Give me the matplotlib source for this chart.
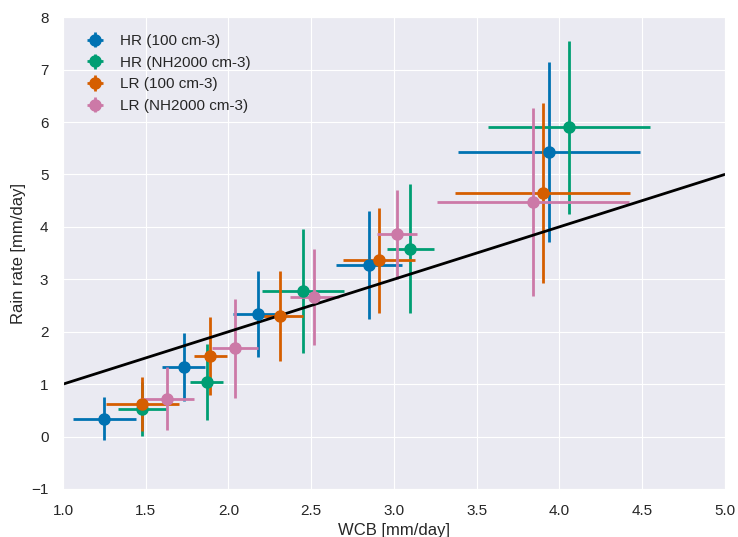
import matplotlib
matplotlib.use('Agg')
import matplotlib.pyplot as plt
import seaborn as sns

# data: WCB [mm/day] vs rain rate [mm/day]
labels = ['HR (100 cm-3)', 'HR (NH2000 cm-3)', 'LR (100 cm-3)', 'LR (NH2000 cm-3)']
colors = ['#0072B2', '#009E73', '#D55E00', '#CC79A7']

hr100_x = [1.25, 1.73, 2.18, 2.85, 3.94]
hr100_xerr = [0.19, 0.13, 0.15, 0.20, 0.55]
hr100_y = [0.34, 1.33, 2.33, 3.27, 5.43]
hr100_yerr = [0.41, 0.65, 0.82, 1.03, 1.71]

hrnh_x = [1.48, 1.87, 2.45, 3.10, 4.06]
hrnh_xerr = [0.15, 0.10, 0.25, 0.14, 0.49]
hrnh_y = [0.53, 1.04, 2.78, 3.58, 5.90]
hrnh_yerr = [0.52, 0.73, 1.18, 1.23, 1.65]

lr100_x = [1.48, 1.89, 2.31, 2.91, 3.90]
lr100_xerr = [0.22, 0.10, 0.14, 0.22, 0.53]
lr100_y = [0.62, 1.54, 2.30, 3.36, 4.65]
lr100_yerr = [0.52, 0.75, 0.86, 1.00, 1.72]

lrnh_x = [1.63, 2.04, 2.52, 3.02, 3.84]
lrnh_xerr = [0.16, 0.14, 0.15, 0.12, 0.58]
lrnh_y = [0.72, 1.68, 2.66, 3.86, 4.47]
lrnh_yerr = [0.60, 0.94, 0.92, 0.85, 1.79]

# 1:1 reference line
line_x = [1.0, 5.0]
line_y = [1.0, 5.0]

sns.set_style('darkgrid')
plt.rcParams['font.family'] = ['Liberation Sans', 'DejaVu Sans']
plt.rcParams['xtick.color'] = '#262626'
plt.rcParams['ytick.color'] = '#262626'
plt.rcParams['xtick.major.pad'] = 7
plt.rcParams['ytick.major.pad'] = 7

fig = plt.figure(figsize=(7.38, 5.37), dpi=100)
ax = fig.add_axes([0.0854, 0.0894, 0.8966, 0.8786])

series = [
    (hr100_x, hr100_y, hr100_xerr, hr100_yerr),
    (hrnh_x, hrnh_y, hrnh_xerr, hrnh_yerr),
    (lr100_x, lr100_y, lr100_xerr, lr100_yerr),
    (lrnh_x, lrnh_y, lrnh_xerr, lrnh_yerr),
]
for (x, y, xe, ye), lab, c in zip(series, labels, colors):
    ax.errorbar(x, y, xerr=xe, yerr=ye, fmt='o', color=c, ms=8,
                elinewidth=2, capsize=0, label=lab)

ax.plot(line_x, line_y, color='black', lw=2)

ax.set_xlim(1.0, 5.0)
ax.set_ylim(-1, 8)
ax.set_xlabel('WCB [mm/day]', fontsize=12, color='#262626')
ax.set_ylabel('Rain rate [mm/day]', fontsize=12, color='#262626')
ax.tick_params(labelsize=11)
ax.legend(loc='upper left', fontsize=11, frameon=False,
          borderaxespad=0.7, handletextpad=0.6)

fig.savefig('out.png', dpi=100)
